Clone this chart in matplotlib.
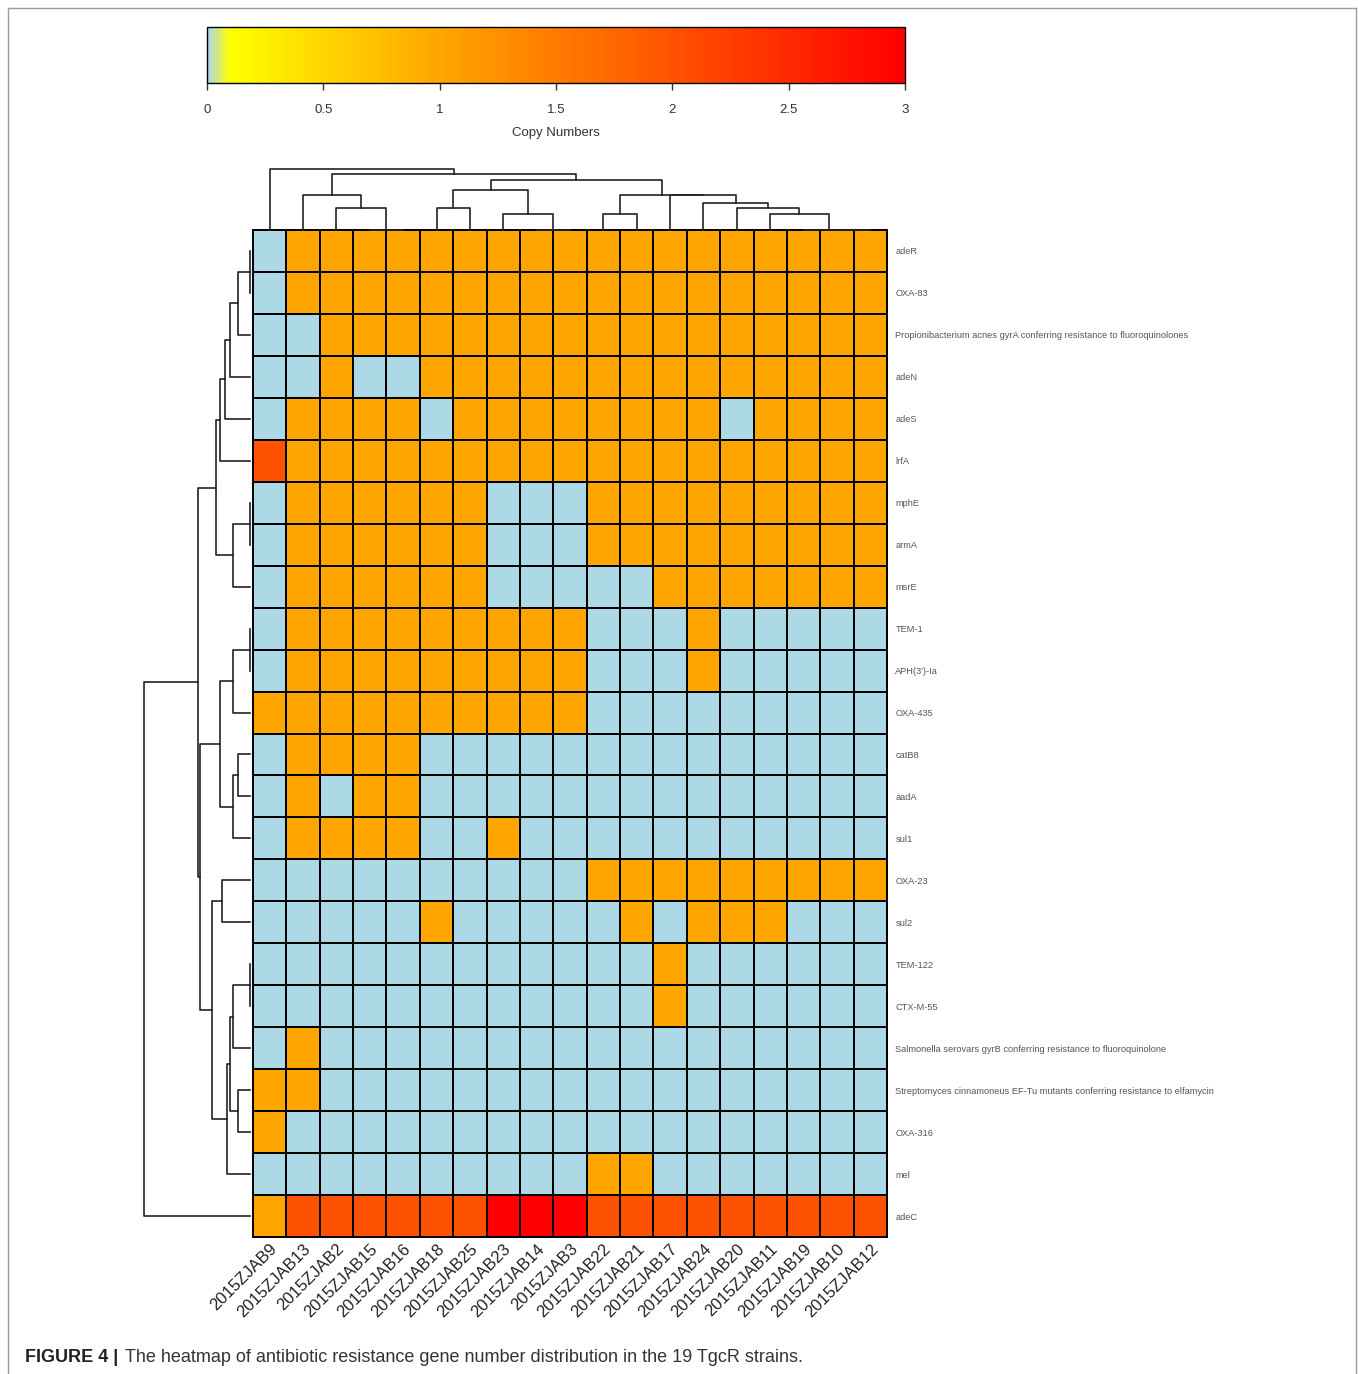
# Heatmap of antibiotic resistance gene copy numbers with dendrograms

import numpy as np
import matplotlib.pyplot as plt
from matplotlib.colors import LinearSegmentedColormap, Normalize
from matplotlib.cm import ScalarMappable
from matplotlib.lines import Line2D

plt.rcParams['font.family'] = ['Liberation Sans', 'DejaVu Sans']

strains = ['2015ZJAB9', '2015ZJAB13', '2015ZJAB2', '2015ZJAB15', '2015ZJAB16',
           '2015ZJAB18', '2015ZJAB25', '2015ZJAB23', '2015ZJAB14', '2015ZJAB3',
           '2015ZJAB22', '2015ZJAB21', '2015ZJAB17', '2015ZJAB24', '2015ZJAB20',
           '2015ZJAB11', '2015ZJAB19', '2015ZJAB10', '2015ZJAB12']

genes = ['adeR', 'OXA-83',
         'Propionibacterium acnes gyrA conferring resistance to fluoroquinolones',
         'adeN', 'adeS', 'lrfA', 'mphE', 'armA', 'msrE', 'TEM-1', "APH(3')-Ia",
         'OXA-435', 'catB8', 'aadA', 'sul1', 'OXA-23', 'sul2', 'TEM-122', 'CTX-M-55',
         'Salmonella serovars gyrB conferring resistance to fluoroquinolone',
         'Streptomyces cinnamoneus EF-Tu mutants conferring resistance to elfamycin',
         'OXA-316', 'mel', 'adeC']

copy_numbers = [
    [0, 1, 1, 1, 1, 1, 1, 1, 1, 1, 1, 1, 1, 1, 1, 1, 1, 1, 1],  # adeR
    [0, 1, 1, 1, 1, 1, 1, 1, 1, 1, 1, 1, 1, 1, 1, 1, 1, 1, 1],  # OXA-83
    [0, 0, 1, 1, 1, 1, 1, 1, 1, 1, 1, 1, 1, 1, 1, 1, 1, 1, 1],  # P. acnes gyrA
    [0, 0, 1, 0, 0, 1, 1, 1, 1, 1, 1, 1, 1, 1, 1, 1, 1, 1, 1],  # adeN
    [0, 1, 1, 1, 1, 0, 1, 1, 1, 1, 1, 1, 1, 1, 0, 1, 1, 1, 1],  # adeS
    [2, 1, 1, 1, 1, 1, 1, 1, 1, 1, 1, 1, 1, 1, 1, 1, 1, 1, 1],  # lrfA
    [0, 1, 1, 1, 1, 1, 1, 0, 0, 0, 1, 1, 1, 1, 1, 1, 1, 1, 1],  # mphE
    [0, 1, 1, 1, 1, 1, 1, 0, 0, 0, 1, 1, 1, 1, 1, 1, 1, 1, 1],  # armA
    [0, 1, 1, 1, 1, 1, 1, 0, 0, 0, 0, 0, 1, 1, 1, 1, 1, 1, 1],  # msrE
    [0, 1, 1, 1, 1, 1, 1, 1, 1, 1, 0, 0, 0, 1, 0, 0, 0, 0, 0],  # TEM-1
    [0, 1, 1, 1, 1, 1, 1, 1, 1, 1, 0, 0, 0, 1, 0, 0, 0, 0, 0],  # APH(3')-Ia
    [1, 1, 1, 1, 1, 1, 1, 1, 1, 1, 0, 0, 0, 0, 0, 0, 0, 0, 0],  # OXA-435
    [0, 1, 1, 1, 1, 0, 0, 0, 0, 0, 0, 0, 0, 0, 0, 0, 0, 0, 0],  # catB8
    [0, 1, 0, 1, 1, 0, 0, 0, 0, 0, 0, 0, 0, 0, 0, 0, 0, 0, 0],  # aadA
    [0, 1, 1, 1, 1, 0, 0, 1, 0, 0, 0, 0, 0, 0, 0, 0, 0, 0, 0],  # sul1
    [0, 0, 0, 0, 0, 0, 0, 0, 0, 0, 1, 1, 1, 1, 1, 1, 1, 1, 1],  # OXA-23
    [0, 0, 0, 0, 0, 1, 0, 0, 0, 0, 0, 1, 0, 1, 1, 1, 0, 0, 0],  # sul2
    [0, 0, 0, 0, 0, 0, 0, 0, 0, 0, 0, 0, 1, 0, 0, 0, 0, 0, 0],  # TEM-122
    [0, 0, 0, 0, 0, 0, 0, 0, 0, 0, 0, 0, 1, 0, 0, 0, 0, 0, 0],  # CTX-M-55
    [0, 1, 0, 0, 0, 0, 0, 0, 0, 0, 0, 0, 0, 0, 0, 0, 0, 0, 0],  # Salmonella gyrB
    [1, 1, 0, 0, 0, 0, 0, 0, 0, 0, 0, 0, 0, 0, 0, 0, 0, 0, 0],  # Streptomyces EF-Tu
    [1, 0, 0, 0, 0, 0, 0, 0, 0, 0, 0, 0, 0, 0, 0, 0, 0, 0, 0],  # OXA-316
    [0, 0, 0, 0, 0, 0, 0, 0, 0, 0, 1, 1, 0, 0, 0, 0, 0, 0, 0],  # mel
    [1, 2, 2, 2, 2, 2, 2, 3, 3, 3, 2, 2, 2, 2, 2, 2, 2, 2, 2],  # adeC
]

# dendrograms as (left, right, height); an int is a leaf index
col_f = (3, 4, 0)
col_c = (1, (2, col_f, 21.7), 34.3)
col_g = ((5, 6, 21.7), (7, (8, 9, 0), 16), 40)
col_m = (13, (14, (15, (16, (17, 18, 0), 0), 16), 21.7), 26.7)
col_h = ((10, 11, 16), (12, col_m, 34.3), 34.3)
col_tree = (0, (col_c, (col_g, col_h, 49.3), 56), 60.7)

row_up = ((((((0, 1, 0), 2, 12), 3, 19.3), 4, 24.3), 5, 29.3),
          ((6, 7, 0), 8, 16.7), 33.3)
row_v = (((9, 10, 0), 11, 16.7), ((12, 13, 12), 14, 16.7), 30)
row_u = ((15, 16, 27.7),
         ((((17, 18, 0), 19, 16.7), (20, 21, 12), 19.3), 22, 22.7), 37.7)
row_tree = ((row_up, (row_v, row_u, 50), 51.7), 23, 105.3)

cbar_ticks = [0, 0.5, 1, 1.5, 2, 2.5, 3]
cbar_labels = ['0', '0.5', '1', '1.5', '2', '2.5', '3']

W, H = 1358, 1374


def box(left, top, right, bottom):
    return [left / W, 1 - bottom / H, (right - left) / W, (bottom - top) / H]


def dendro_segments(node):
    if isinstance(node, int):
        return node + 0.5, 0.0, []
    left, right, h = node
    xl, hl, sl = dendro_segments(left)
    xr, hr, sr = dendro_segments(right)
    seg = [(xl, hl), (xl, h), (xr, h), (xr, hr)]
    return (xl + xr) / 2, h, sl + sr + [seg]


cmap = LinearSegmentedColormap.from_list(
    'copy', [(0, '#add8e6'), (0.03, '#ffff00'), (0.333, '#ffa500'), (1, '#ff0000')])
norm = Normalize(0, 3)

fig = plt.figure(figsize=(W / 100, H / 100), dpi=100)

# outer frame
for xs, ys in [([8, 8], [8, H + 5]), ([8, 1356], [8, 8]), ([1356, 1356], [8, H + 5])]:
    fig.add_artist(Line2D([x / W for x in xs], [1 - y / H for y in ys],
                          color='#9a9a9a', lw=1))

# heatmap
ax = fig.add_axes(box(253, 230, 887, 1237))
data = np.array(copy_numbers)
ax.pcolormesh(data, cmap=cmap, norm=norm, edgecolors='black', linewidth=1.4)
ax.set_xlim(0, len(strains))
ax.set_ylim(len(genes), 0)
for s in ax.spines.values():
    s.set_linewidth(1.4)
ax.yaxis.tick_right()
ax.set_yticks(np.arange(len(genes)) + 0.5)
ax.set_yticklabels(genes, fontsize=6.7, color='#555555')
ax.set_xticks(np.arange(len(strains)) + 0.5)
ax.set_xticklabels(strains, rotation=45, ha='right', va='top',
                   rotation_mode='anchor', fontsize=12, color='#222222')
ax.tick_params(axis='y', length=0, pad=6)
ax.tick_params(axis='x', length=0, pad=3)

# column dendrogram
axc = fig.add_axes(box(253, 159.5, 887, 229.5))
for seg in dendro_segments(col_tree)[2]:
    xs, ys = zip(*seg)
    axc.plot(xs, ys, color='#222222', lw=1.2, clip_on=False)
axc.set_xlim(0, len(strains))
axc.set_ylim(0, 70)
axc.axis('off')

# row dendrogram
axr = fig.add_axes(box(134.5, 230, 249.5, 1237))
for seg in dendro_segments(row_tree)[2]:
    ys, xs = zip(*seg)
    axr.plot(xs, ys, color='#222222', lw=1.2, clip_on=False)
axr.set_xlim(115, 0)
axr.set_ylim(len(genes), 0)
axr.axis('off')

# colour key
cax = fig.add_axes(box(207, 27, 905, 83))
cb = fig.colorbar(ScalarMappable(norm=norm, cmap=cmap), cax=cax,
                  orientation='horizontal', ticks=cbar_ticks)
cb.ax.set_xticklabels(cbar_labels)
cb.ax.tick_params(length=5, width=1, labelsize=9.5, pad=10, colors='#333333')
cb.outline.set_linewidth(1)
cb.set_label('Copy Numbers', fontsize=9.5, color='#333333', labelpad=8)

# caption
fig.text(25 / W, 1 - 1357 / H, 'FIGURE 4 |', fontsize=13, fontweight='bold',
         color='#231f20', va='center')
fig.text(125 / W, 1 - 1357 / H,
         'The heatmap of antibiotic resistance gene number distribution in the 19 TgcR strains.',
         fontsize=13, color='#333333', va='center')

plt.savefig('out.png', dpi=100)
